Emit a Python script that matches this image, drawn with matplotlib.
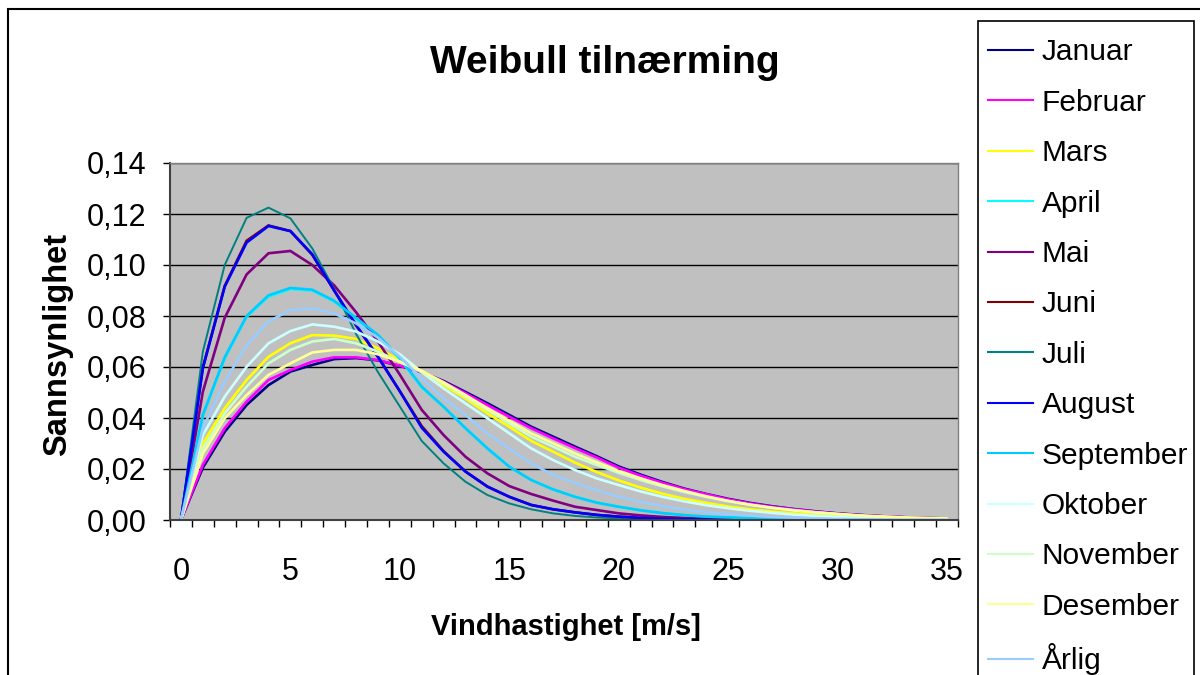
import matplotlib
matplotlib.use("Agg")
import matplotlib.pyplot as plt
from matplotlib.patches import Rectangle
from matplotlib.ticker import FuncFormatter, MultipleLocator
import numpy as np

plt.rcParams['font.family'] = ['Liberation Sans', 'DejaVu Sans']

speed = list(range(36))

januar = [0, 0.0205, 0.0346, 0.0451, 0.0529, 0.0582, 0.0608, 0.0631, 0.0635, 0.0626, 0.0604, 0.0580,
          0.0545, 0.0502, 0.0458, 0.0412, 0.0366, 0.0327, 0.0288, 0.0250, 0.0210, 0.0178, 0.0149, 0.0123,
          0.0102, 0.0083, 0.0067, 0.0054, 0.0043, 0.0034, 0.0026, 0.0020, 0.0015, 0.0011, 0.0008, 0.0006]
februar = [0, 0.0216, 0.0360, 0.0464, 0.0549, 0.0588, 0.0621, 0.0638, 0.0638, 0.0627, 0.0605, 0.0580,
           0.0542, 0.0497, 0.0451, 0.0405, 0.0360, 0.0320, 0.0282, 0.0245, 0.0205, 0.0174, 0.0146, 0.0121,
           0.0101, 0.0081, 0.0065, 0.0052, 0.0042, 0.0033, 0.0025, 0.0019, 0.0015, 0.0011, 0.0008, 0.0006]
mars = [0, 0.0300, 0.0438, 0.0549, 0.0640, 0.0693, 0.0725, 0.0723, 0.0710, 0.0673, 0.0627, 0.0582,
        0.0529, 0.0477, 0.0418, 0.0366, 0.0310, 0.0268, 0.0225, 0.0188, 0.0155, 0.0127, 0.0103, 0.0083,
        0.0067, 0.0053, 0.0042, 0.0033, 0.0026, 0.0020, 0.0015, 0.0011, 0.0008, 0.0006, 0.0004, 0.0003]
april = [0, 0.0410, 0.0634, 0.0797, 0.0876, 0.0906, 0.0900, 0.0857, 0.0790, 0.0723, 0.0633, 0.0520,
         0.0444, 0.0360, 0.0281, 0.0209, 0.0157, 0.0120, 0.0091, 0.0068, 0.0052, 0.0038, 0.0027, 0.0019,
         0.0013, 0.0010, 0.0007, 0.0005, 0.0003, 0.0002, 0.0001, 0.0001, 0, 0, 0, 0]
mai = [0, 0.0503, 0.0793, 0.0963, 0.1046, 0.1055, 0.1000, 0.0920, 0.0815, 0.0700, 0.0570, 0.0432,
       0.0333, 0.0248, 0.0183, 0.0133, 0.0102, 0.0076, 0.0052, 0.0039, 0.0026, 0.0018, 0.0012, 0.0008,
       0.0005, 0.0003, 0.0002, 0.0001, 0, 0, 0, 0, 0, 0, 0, 0]
juni = [0, 0.0598, 0.0918, 0.1095, 0.1155, 0.1133, 0.1040, 0.0900, 0.0763, 0.0640, 0.0505, 0.0368,
        0.0270, 0.0190, 0.0131, 0.0091, 0.0059, 0.0042, 0.0030, 0.0020, 0.0013, 0.0008, 0.0005, 0.0003,
        0.0002, 0.0001, 0, 0, 0, 0, 0, 0, 0, 0, 0, 0]
juli = [0, 0.0660, 0.1000, 0.1185, 0.1225, 0.1183, 0.1065, 0.0905, 0.0730, 0.0580, 0.0445, 0.0310,
        0.0222, 0.0150, 0.0098, 0.0065, 0.0042, 0.0026, 0.0016, 0.0010, 0.0006, 0.0003, 0.0002, 0.0001,
        0, 0, 0, 0, 0, 0, 0, 0, 0, 0, 0, 0]
august = [0, 0.0595, 0.0915, 0.1088, 0.1153, 0.1133, 0.1042, 0.0900, 0.0765, 0.0640, 0.0505, 0.0362,
          0.0268, 0.0190, 0.0131, 0.0091, 0.0059, 0.0042, 0.0030, 0.0020, 0.0013, 0.0008, 0.0005, 0.0003,
          0.0002, 0.0001, 0, 0, 0, 0, 0, 0, 0, 0, 0, 0]
september = [0, 0.0412, 0.0638, 0.0800, 0.0881, 0.0910, 0.0903, 0.0860, 0.0792, 0.0726, 0.0635, 0.0523,
             0.0444, 0.0360, 0.0281, 0.0209, 0.0157, 0.0120, 0.0091, 0.0068, 0.0052, 0.0038, 0.0027, 0.0019,
             0.0013, 0.0010, 0.0007, 0.0005, 0.0003, 0.0002, 0.0001, 0.0001, 0, 0, 0, 0]
oktober = [0, 0.0333, 0.0484, 0.0601, 0.0693, 0.0741, 0.0767, 0.0758, 0.0739, 0.0700, 0.0650, 0.0580,
           0.0516, 0.0457, 0.0399, 0.0340, 0.0281, 0.0235, 0.0196, 0.0163, 0.0137, 0.0112, 0.0091, 0.0073,
           0.0058, 0.0046, 0.0036, 0.0028, 0.0021, 0.0016, 0.0012, 0.0009, 0.0007, 0.0005, 0.0004, 0.0003]
november = [0, 0.0280, 0.0418, 0.0523, 0.0614, 0.0667, 0.0700, 0.0710, 0.0693, 0.0660, 0.0621, 0.0580,
            0.0536, 0.0484, 0.0431, 0.0379, 0.0327, 0.0288, 0.0248, 0.0216, 0.0185, 0.0157, 0.0132, 0.0110,
            0.0091, 0.0074, 0.0060, 0.0048, 0.0038, 0.0030, 0.0023, 0.0017, 0.0013, 0.0010, 0.0007, 0.0005]
desember = [0, 0.0260, 0.0399, 0.0490, 0.0569, 0.0614, 0.0657, 0.0667, 0.0667, 0.0650, 0.0621, 0.0585,
            0.0540, 0.0490, 0.0438, 0.0389, 0.0340, 0.0301, 0.0261, 0.0226, 0.0192, 0.0163, 0.0137, 0.0114,
            0.0093, 0.0075, 0.0060, 0.0048, 0.0038, 0.0030, 0.0024, 0.0018, 0.0014, 0.0010, 0.0008, 0.0006]
arlig = [0, 0.0360, 0.0542, 0.0686, 0.0778, 0.0824, 0.0830, 0.0810, 0.0771, 0.0715, 0.0640, 0.0555,
         0.0477, 0.0412, 0.0340, 0.0281, 0.0222, 0.0176, 0.0146, 0.0116, 0.0091, 0.0071, 0.0054, 0.0041,
         0.0031, 0.0023, 0.0017, 0.0012, 0.0009, 0.0006, 0.0004, 0.0003, 0.0002, 0.0001, 0.0001, 0.0001]

series_names = ['Januar', 'Februar', 'Mars', 'April', 'Mai', 'Juni', 'Juli', 'August',
                'September', 'Oktober', 'November', 'Desember', 'Årlig']
series_values = [januar, februar, mars, april, mai, juni, juli, august,
                 september, oktober, november, desember, arlig]
series_colors = ['#000080', '#FF00FF', '#FFFF00', '#00FFFF', '#800080', '#800000', '#008080',
                 '#0000FF', '#00CCFF', '#CCFFFF', '#CCFFCC', '#FFFF99', '#99CCFF']

W, H = 1200, 675
fig = plt.figure(figsize=(12, 6.75), dpi=100)
fig.patch.set_facecolor('white')

# outer chart-area border (cropped at right/bottom)
fig.patches.append(Rectangle((8 / W, -0.1), 1.2, 1.1 - 9 / H, transform=fig.transFigure,
                             fill=False, edgecolor='black', linewidth=1.5))
# legend frame (cropped at bottom)
fig.patches.append(Rectangle((977.5 / W, -0.1), (1194 - 977.5) / W, 1.1 - 21 / H,
                             transform=fig.transFigure, fill=False, edgecolor='black',
                             linewidth=1.2))

ax = fig.add_axes([170 / W, 1 - 520 / H, (958 - 170) / W, (520 - 163) / H])
ax.set_facecolor('#C0C0C0')

for name, vals, col in zip(series_names, series_values, series_colors):
    lw = 1.4 if name == 'Juli' else 1.9
    ax.plot(speed, vals, color=col, linewidth=lw, label=name, solid_joinstyle='miter')

ax.set_xlim(-0.5, 35.5)
ax.set_ylim(0, 0.14)
ax.yaxis.set_major_locator(MultipleLocator(0.02))
ax.yaxis.set_major_formatter(FuncFormatter(lambda v, p: f"{v:.2f}".replace('.', ',')))
ax.set_xticks(range(0, 36, 5))
ax.set_xticks(np.arange(-0.5, 35.6, 1.0), minor=True)
ax.tick_params(axis='x', which='major', length=0, pad=27, labelsize=22)
ax.tick_params(axis='x', which='minor', length=5, width=1, color='black', direction='out')
ax.tick_params(axis='y', which='major', length=5, width=1, direction='out', pad=12, labelsize=22)
ax.grid(axis='y', color='black', linewidth=1)
ax.set_axisbelow(True)
for s in ['top', 'right']:
    ax.spines[s].set_color('#808080')
    ax.spines[s].set_linewidth(1)
for s in ['left', 'bottom']:
    ax.spines[s].set_color('#404040')
    ax.spines[s].set_linewidth(1.5)

fig.text(605 / W, 1 - 63 / H, 'Weibull tilnærming', ha='center', va='center',
         fontsize=28, fontweight='bold')
fig.text(566 / W, 1 - 627 / H, 'Vindhastighet [m/s]', ha='center', va='center',
         fontsize=21, fontweight='bold')
fig.text(58 / W, 1 - 344 / H, 'Sannsynlighet', ha='center', va='center', rotation=90,
         fontsize=23.5, fontweight='bold')

leg = fig.legend(loc='upper left', bbox_to_anchor=(977.5 / W, 1 - 28 / H), fontsize=21.5,
                 frameon=False, handlelength=1.5, handletextpad=0.3, borderpad=0.35,
                 labelspacing=0.75, borderaxespad=0)
for line in leg.get_lines():
    line.set_linewidth(1.5)

fig.savefig('out.png', dpi=100)
